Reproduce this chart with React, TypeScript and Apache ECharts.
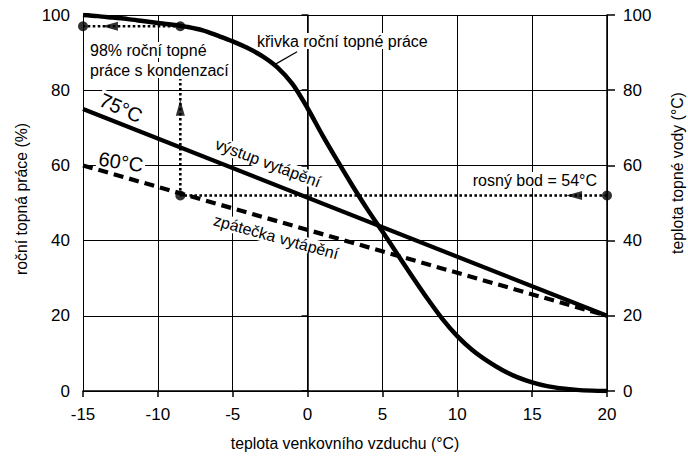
import React, { useEffect, useRef } from 'react';
import * as echarts from 'echarts';

// outdoor temperature (°C) and annual heating work (%)
const curveX = [-15, -14, -13, -12, -11, -10, -9, -8, -7, -6, -5, -4, -3, -2, -1, 0, 1, 2, 3, 4, 5, 6, 7, 8, 9, 10, 11, 12, 13, 14, 15, 16, 17, 18, 19, 20];
const curveY = [100, 99.7, 99.3, 98.9, 98.4, 97.9, 97.4, 96.8, 95.9, 94.5, 93.0, 91.2, 89.0, 86.0, 81.6, 75.2, 68.0, 61.2, 54.6, 48.3, 42.4, 36.4, 30.4, 24.6, 19.2, 14.6, 10.9, 8.0, 5.6, 3.7, 2.3, 1.3, 0.7, 0.3, 0.1, 0];

// heating water temperatures (°C)
const supplyX = [-15, 20];
const supplyY = [75, 20];
const returnX = [-15, 20];
const returnY = [60, 20];

// construction lines
const dewX = [20, -8.5];
const dewY = [52, 52];
const upX = [-8.5, -8.5];
const upY = [52, 83];
const topX = [-8.5, -15];
const topY = [97, 97];
const leaderX = [-2.2, -0.7];
const leaderY = [86.8, 90.2];

const dotX = [-15, -8.5, -8.5, 20];
const dotY = [97, 97, 52, 52];

const arrowX = [-13.2, -8.5, 17.8];
const arrowY = [97, 75.3, 52];
const arrowRot = [90, 0, 90];

const yTicks = { min: 0, max: 100, interval: 20 };
const xTicks = { min: -15, max: 20, interval: 5 };

const FONT = 'Liberation Sans, Arial, Helvetica, sans-serif';

const zip = (xs: number[], ys: number[]) => xs.map((x, i) => [x, ys[i]]);

export default function App() {
  const ref = useRef<HTMLDivElement>(null);
  useEffect(() => {
    if (!ref.current) return;
    const chart = echarts.init(ref.current, undefined, { renderer: 'svg' });
    const dotted = { color: '#000', width: 2.6, type: [2.6, 2.4] as any };
    const txt = (text: string, x: number, y: number, size: number, rotation = 0, align = 'left', bg = true) => ({
      type: 'text', x, y, rotation, z: 1,
      style: {
        text, font: `${size}px ${FONT}`, fill: '#000',
        align, verticalAlign: 'middle', textAlign: align, textVerticalAlign: 'middle',
        backgroundColor: bg ? '#fff' : undefined, padding: bg ? [0, 2, 0, 2] : 0,
      },
    });
    chart.setOption({
      animation: false,
      backgroundColor: '#fff',
      textStyle: { fontFamily: FONT },
      grid: { left: 83, right: 81, top: 15, bottom: 66, containLabel: false, outerBoundsMode: 'none' },
      xAxis: {
        type: 'value',
        ...xTicks,
        name: 'teplota venkovního vzduchu (°C)',
        nameLocation: 'middle',
        nameGap: 44,
        nameTextStyle: { fontSize: 15.8, color: '#000', fontFamily: FONT },
        axisLine: { show: true, onZero: false, lineStyle: { color: '#000', width: 1.5 } },
        axisTick: { show: true, length: 6, lineStyle: { color: '#000', width: 1.5 } },
        axisLabel: { fontSize: 17, color: '#000', margin: 15, fontFamily: FONT },
        splitLine: { show: true, lineStyle: { color: '#000', width: 1 } },
      },
      yAxis: [
        {
          type: 'value',
          ...yTicks,
          position: 'left',
          axisLine: { show: true, lineStyle: { color: '#000', width: 1.5 } },
          axisTick: { show: true, length: 6, lineStyle: { color: '#000', width: 1.5 } },
          axisLabel: { fontSize: 17, color: '#000', margin: 13, fontFamily: FONT },
          splitLine: { show: true, lineStyle: { color: '#000', width: 1 } },
        },
        {
          type: 'value',
          ...yTicks,
          position: 'right',
          axisLine: { show: true, lineStyle: { color: '#000', width: 1.5 } },
          axisTick: { show: true, length: 8, lineStyle: { color: '#000', width: 1.5 } },
          axisLabel: { fontSize: 17, color: '#000', margin: 16, fontFamily: FONT },
          splitLine: { show: false },
        },
      ],
      series: [
        {
          type: 'line', data: zip(curveX, curveY), smooth: 0.3, showSymbol: false,
          lineStyle: { color: '#000', width: 4.5 }, z: 5,
        },
        {
          type: 'line', yAxisIndex: 1, data: zip(supplyX, supplyY), showSymbol: false,
          lineStyle: { color: '#000', width: 4.2 }, z: 5,
        },
        {
          type: 'line', yAxisIndex: 1, data: zip(returnX, returnY), showSymbol: false,
          lineStyle: { color: '#000', width: 4.2, type: [10, 6] }, z: 5,
        },
        { type: 'line', yAxisIndex: 1, data: zip(dewX, dewY), showSymbol: false, lineStyle: dotted, z: 4 },
        { type: 'line', data: zip(upX, upY), showSymbol: false, lineStyle: dotted, z: 4 },
        { type: 'line', data: zip(topX, topY), showSymbol: false, lineStyle: dotted, z: 4 },
        { type: 'line', data: zip(leaderX, leaderY), showSymbol: false, lineStyle: { color: '#000', width: 1.2 }, z: 4 },
        {
          type: 'scatter', data: zip(dotX, dotY), symbol: 'circle', symbolSize: 10,
          itemStyle: { color: '#000' }, z: 6,
        },
        {
          type: 'scatter',
          data: arrowX.map((x, i) => ({ value: [x, arrowY[i]], symbolRotate: arrowRot[i] })),
          symbol: 'triangle', symbolSize: [9, 16],
          itemStyle: { color: '#000' }, z: 6,
        },
      ],
      graphic: [
        txt('roční topná práce (%)', 21, 199, 15.8, Math.PI / 2, 'center', false),
        txt('teplota topné vody (°C)', 677, 173, 15.8, Math.PI / 2, 'center', false),
        txt('křivka roční topné práce', 255, 41, 16),
        txt('98% roční topné', 88, 50, 16),
        txt('práce s kondenzací', 88, 70, 16),
        txt('75°C', 121, 108, 20, -0.42, 'center'),
        txt('60°C', 121, 162, 20, -0.15, 'center'),
        txt('výstup vytápění', 268, 163, 16, -0.36, 'center'),
        txt('zpátečka vytápění', 276, 237, 16, -0.27, 'center'),
        txt('rosný bod = 54°C', 599, 180, 16, 0, 'right'),
      ],
    });
    return () => chart.dispose();
  }, []);
  return <div ref={ref} style={{ position: 'fixed', left: 0, top: 0, width: 688, height: 457 }} />;
}
